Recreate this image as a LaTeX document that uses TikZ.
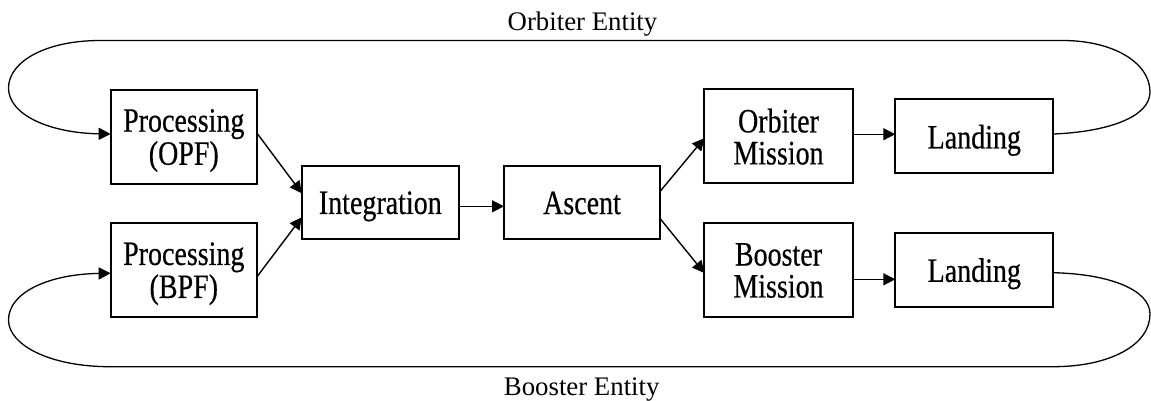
\documentclass[tikz,border=0pt]{standalone}
\usepackage{fontspec}
\usepackage{graphicx}
\setmainfont{Liberation Serif}
\newfontfamily\stagefont{Liberation Serif}[FakeBold=0.5]
\usetikzlibrary{arrows.meta}

% box label, set slightly tall and a little below centre
\newcommand{\stagetext}[1]{\raisebox{-5pt}[\height][\depth]{\scalebox{1}[1.22]{\begin{tabular}{@{}c@{}}#1\end{tabular}}}}

\tikzset{
  stage/.style={draw, line width=1.9pt, inner sep=0pt, outer sep=0pt,
    font=\stagefont\fontsize{28}{25.5}\selectfont},
  bigstage/.style={stage, minimum width=146.3pt, minimum height=94pt},
  smallstage/.style={stage, minimum width=157pt, minimum height=73.5pt},
  tip/.style={-{Triangle[length=12pt,width=12pt]}},
  flow/.style={line width=1.4pt, tip},
  loopline/.style={line width=1.3pt},
  caption/.style={font=\fontsize{26.8}{30}\selectfont, inner sep=0pt, anchor=base}
}

\begin{document}
\begin{tikzpicture}[x=1pt, y=-1pt]
\useasboundingbox (0,0) rectangle (1151,400);
\fill[white] (0,0) rectangle (1151,400);

% stages
\node[bigstage] (opf) at (183.8,136.6) {\stagetext{Processing\\(OPF)}};
\node[bigstage] (bpf) at (183.8,269.8) {\stagetext{Processing\\(BPF)}};
\node[smallstage] (integ) at (380.3,202.3) {\stagetext{Integration}};
\node[smallstage, minimum width=156pt] (ascent) at (582,202.5) {\stagetext{Ascent}};
\node[bigstage, minimum width=148.4pt] (om) at (778.5,136.2) {\stagetext{Orbiter\\Mission}};
\node[bigstage, minimum width=148.4pt] (bm) at (778.5,270) {\stagetext{Booster\\Mission}};
\node[smallstage, minimum width=158pt, minimum height=74pt] (land1) at (974.3,136.3) {\stagetext{Landing}};
\node[smallstage, minimum width=158pt, minimum height=74pt] (land2) at (974.3,269.7) {\stagetext{Landing}};

% captions
\node[caption] (orbcap) at (582.5,30) {Orbiter Entity};
\node[caption] (bstcap) at (581.7,395) {Booster Entity};

% flow between stages
\draw[flow] ([yshift=3.5pt]opf.east) -- ([yshift=9pt]integ.west);
\draw[flow] ([yshift=-7pt]bpf.east) -- ([yshift=-15pt]integ.west);
\draw[flow] ([yshift=-4pt]integ.east) -- ([yshift=-4pt]integ.east -| ascent.west);
\draw[flow] ([yshift=11pt]ascent.east) -- ([yshift=-2pt]om.west);
\draw[flow] ([yshift=-16pt]ascent.east) -- ([yshift=-3pt]bm.west);
\draw[flow] ([yshift=2pt]om.east) -- ([yshift=2pt]om.east -| land1.west);
\draw[flow] ([yshift=-9.3pt]bm.east) -- ([yshift=-9.3pt]bm.east -| land2.west);

% return loops
\coordinate (orbR) at (1150,92);
\coordinate (orbTR) at (1063,40.5);
\coordinate (orbTL) at (100,40.5);
\coordinate (orbL) at (8.5,88);
\draw[loopline, tip] ([yshift=2.3pt]land1.east)
  .. controls (1105,132) and (1150,118) .. (orbR)
  .. controls (1150,62) and (1112,40.5) .. (orbTR)
  -- (orbTL)
  .. controls (45,40.5) and (8.5,62) .. (orbL)
  .. controls (8.5,115) and (50,133) .. ([yshift=2.6pt]opf.west);

\coordinate (bstR) at (1150,314);
\coordinate (bstBR) at (1053,366.7);
\coordinate (bstBL) at (110,366.7);
\coordinate (bstL) at (8.5,320);
\draw[loopline, tip] ([yshift=-3pt]land2.east)
  .. controls (1110,274) and (1150,290) .. (bstR)
  .. controls (1150,345) and (1110,366.7) .. (bstBR)
  -- (bstBL)
  .. controls (50,366.7) and (8.5,345) .. (bstL)
  .. controls (8.5,292) and (50,274) .. ([yshift=-3.5pt]bpf.west);
\end{tikzpicture}
\end{document}
